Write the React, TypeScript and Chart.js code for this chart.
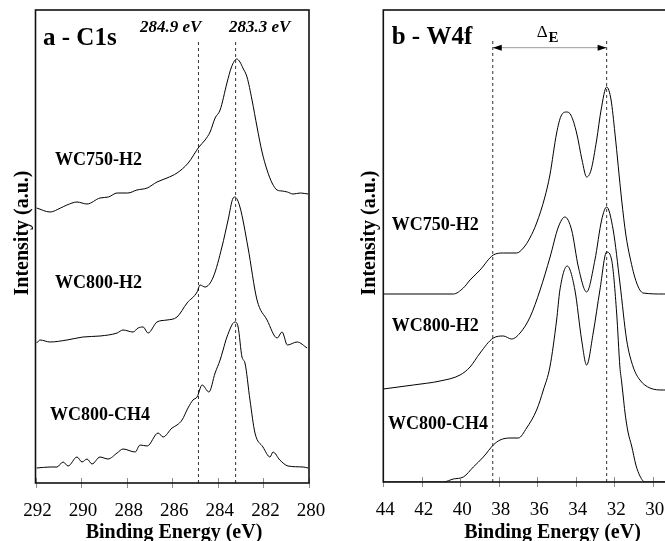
import React, { useEffect, useRef } from "react";
import { Chart, registerables } from "chart.js";

Chart.register(...registerables);

const SERIF = "'Liberation Serif', 'Times New Roman', serif";

// ---------- Panel a : C1s ----------
const c1sTicks = [292, 290, 288, 286, 284, 282, 280];
const c1sLines = [284.85, 283.22];

const c1sE750 = [291.95, 291.36, 290.9, 290.62, 290.18, 289.74, 289.17, 288.8, 288.42, 287.95, 287.55, 287.1, 286.67, 286.23, 285.79, 285.3, 284.83, 284.56, 284.34, 284.12, 283.9, 283.6, 283.4, 283.17, 283.03, 282.9, 282.72, 282.5, 282.28, 282.06, 281.84, 281.62, 281.4, 281.18, 280.95, 280.7, 280.38, 280.04];
const c1sI750 = [275, 271, 275, 278, 281, 279, 285, 286, 290, 290, 293, 295, 301, 305, 310, 320, 336, 343, 351, 365, 373, 400, 416, 424, 421, 415, 406, 383, 356, 331, 313, 300, 293, 292, 291, 289, 290, 289];

const c1sE800H = [291.95, 291.8, 291.36, 290.62, 289.92, 289.17, 288.42, 288.16, 287.72, 287.5, 287.28, 287.06, 286.67, 286.23, 285.79, 285.35, 284.91, 284.78, 284.56, 284.2, 283.82, 283.55, 283.33, 283.25, 283.03, 282.68, 282.28, 281.84, 281.4, 281.18, 280.95, 280.52, 280.08];
const c1sI800H = [140, 143, 141, 143, 146, 147, 150, 153, 151, 155, 156, 150, 161, 163, 166, 180, 191, 198, 196, 206, 236, 263, 285, 286, 276, 236, 183, 163, 145, 151, 138, 141, 135];

const c1sECH4 = [291.95, 291.36, 291.06, 290.79, 290.57, 290.18, 289.96, 289.74, 289.52, 289.17, 288.82, 288.42, 288.16, 287.63, 287.41, 287.1, 286.62, 286.4, 286.01, 285.79, 285.57, 285.31, 285.09, 284.91, 284.69, 284.39, 284.12, 283.9, 283.77, 283.6, 283.25, 283.11, 282.94, 282.81, 282.59, 282.37, 282.02, 281.71, 281.58, 281.28, 280.92, 280.26, 280.04];
const c1sICH4 = [15, 16, 16, 21, 17, 26, 21, 24, 19, 26, 24, 30, 34, 31, 38, 37, 50, 46, 55, 58, 63, 75, 83, 86, 98, 91, 110, 123, 133, 146, 161, 156, 126, 120, 83, 50, 36, 26, 31, 23, 17, 16, 15];

// ---------- Panel b : W4f ----------
const w4fTicks = [44, 42, 40, 38, 36, 34, 32, 30, 28];
const w4fLines = [38.31, 32.39];

const w4fE750 = [44.0, 42.09, 40.36, 39.84, 39.49, 38.97, 38.28, 37.76, 37.07, 36.72, 36.38, 36.03, 35.6, 35.34, 34.99, 34.76, 34.47, 34.25, 33.95, 33.67, 33.43, 33.2, 32.91, 32.68, 32.39, 32.16, 31.96, 31.61, 31.39, 31.18, 30.83, 30.49, 29.45, 28.0];
const w4fI750 = [188, 188, 188, 194, 202, 212, 227, 229, 229, 234, 244, 259, 285, 307, 349, 366, 370, 367, 349, 322, 305, 312, 342, 372, 395, 382, 349, 282, 247, 225, 199, 189, 188, 188];

const w4fE800H = [44.0, 42.44, 41.05, 40.01, 39.49, 38.97, 38.28, 37.76, 37.33, 36.89, 36.37, 35.85, 35.33, 34.9, 34.56, 34.21, 33.86, 33.43, 33.0, 32.65, 32.39, 32.05, 31.7, 31.35, 31.01, 30.66, 30.14, 29.45, 28.0];
const w4fI800H = [93, 97, 101, 107, 115, 129, 144, 146, 143, 149, 165, 192, 225, 255, 265, 252, 215, 190, 222, 262, 275, 252, 199, 142, 115, 102, 94, 92, 92];

const w4fECH4 = [44.0, 40.88, 40.36, 39.84, 39.32, 38.8, 38.28, 37.93, 37.41, 36.98, 36.55, 36.03, 35.68, 35.34, 34.99, 34.82, 34.44, 34.04, 33.69, 33.43, 33.09, 32.74, 32.39, 32.13, 31.87, 31.7, 31.61, 31.53, 31.44, 31.28, 31.09, 30.87, 30.66, 30.4, 29.45, 28.0];
const w4fICH4 = [0, 0, 3, 5, 15, 25, 37, 42, 44, 44, 54, 72, 92, 115, 162, 192, 216, 192, 142, 117, 149, 192, 230, 222, 169, 115, 100, 86, 70, 50, 36, 17, 6, 0, 0, 0];

const seriesNames = ["WC750-H2", "WC800-H2", "WC800-CH4"];

function pts(xs: number[], ys: number[]) {
  return xs.map((x, i) => ({ x, y: ys[i] }));
}

function curve(label: string, xs: number[], ys: number[]) {
  return {
    label,
    data: pts(xs, ys),
    borderColor: "#000",
    borderWidth: 1,
    pointRadius: 0,
    cubicInterpolationMode: "monotone",
    fill: false,
  };
}

function vline(e: number, top: number) {
  return {
    label: "ref " + e,
    data: [
      { x: e, y: 0 },
      { x: e, y: top },
    ],
    borderColor: "#333",
    borderWidth: 1,
    borderDash: [3, 3],
    pointRadius: 0,
    tension: 0,
    fill: false,
  };
}

type TextItem = { t: string; x: number; y: number; font: string; align?: CanvasTextAlign; rot?: boolean };

function decorPlugin(texts: TextItem[], arrow?: { from: number; to: number; y: number }) {
  return {
    id: "decor",
    afterDatasetsDraw(chart: any) {
      const { ctx, chartArea } = chart;
      const { left, right, top, bottom } = chartArea;
      const xs = chart.scales.x;
      const ys = chart.scales.y;
      ctx.save();
      ctx.strokeStyle = "#8c8c8c";
      ctx.lineWidth = 1;
      for (const tk of xs.ticks) {
        const px = Math.round(xs.getPixelForValue(tk.value)) + 0.5;
        ctx.beginPath();
        ctx.moveTo(px, bottom - 5);
        ctx.lineTo(px, bottom + 5);
        ctx.stroke();
      }
      ctx.strokeStyle = "#111";
      ctx.lineWidth = 1.6;
      ctx.strokeRect(left, top, right - left, bottom - top);
      if (arrow) {
        const x1 = xs.getPixelForValue(arrow.from);
        const x2 = xs.getPixelForValue(arrow.to);
        const y = ys.getPixelForValue(arrow.y);
        ctx.strokeStyle = "#9a9a9a";
        ctx.lineWidth = 1;
        ctx.beginPath();
        ctx.moveTo(x1, y);
        ctx.lineTo(x2, y);
        ctx.stroke();
        ctx.fillStyle = "#000";
        ctx.beginPath();
        ctx.moveTo(x1, y);
        ctx.lineTo(x1 + 9, y - 3);
        ctx.lineTo(x1 + 9, y + 3);
        ctx.closePath();
        ctx.fill();
        ctx.beginPath();
        ctx.moveTo(x2, y);
        ctx.lineTo(x2 - 9, y - 3);
        ctx.lineTo(x2 - 9, y + 3);
        ctx.closePath();
        ctx.fill();
      }
      ctx.fillStyle = "#000";
      for (const it of texts) {
        ctx.font = it.font;
        ctx.textAlign = it.align || "left";
        ctx.textBaseline = "alphabetic";
        if (it.rot) {
          ctx.save();
          ctx.translate(it.x, it.y);
          ctx.rotate(-Math.PI / 2);
          ctx.textAlign = "center";
          ctx.fillText(it.t, 0, 0);
          ctx.restore();
        } else {
          ctx.fillText(it.t, it.x, it.y);
        }
      }
      ctx.restore();
    },
  };
}

function makeOptions(min: number, max: number, ymax: number, yWidth: number, xHeight: number, padRight: number, ticks: number[]) {
  return {
    responsive: false,
    animation: false as const,
    layout: { padding: { top: 10, right: padRight, left: 0, bottom: 0 } },
    plugins: { legend: { display: false }, tooltip: { enabled: false } },
    scales: {
      x: {
        type: "linear" as const,
        reverse: true,
        min,
        max,
        afterBuildTicks: (axis: any) => {
          axis.ticks = ticks.map((v) => ({ value: v }));
        },
        afterFit: (axis: any) => {
          axis.height = xHeight;
          axis.paddingLeft = 0;
          axis.paddingRight = 0;
          axis.paddingTop = 0;
          axis.paddingBottom = 0;
        },
        grid: { display: false, drawTicks: false },
        border: { display: false },
        ticks: {
          color: "#000",
          padding: 17,
          labelOffset: 2,
          maxRotation: 0,
          autoSkip: false,
          font: { family: SERIF, size: 19 },
        },
      },
      y: {
        type: "linear" as const,
        min: 0,
        max: ymax,
        afterFit: (axis: any) => {
          axis.width = yWidth;
          axis.paddingLeft = 0;
          axis.paddingRight = 0;
          axis.paddingTop = 0;
          axis.paddingBottom = 0;
        },
        grid: { display: false, drawTicks: false },
        border: { display: false },
        ticks: { display: false },
      },
    },
  };
}

export default function App() {
  const refA = useRef<HTMLCanvasElement>(null);
  const refB = useRef<HTMLCanvasElement>(null);

  useEffect(() => {
    const bold20 = `bold 20px ${SERIF}`;
    const bold18 = `bold 18px ${SERIF}`;
    const chartA = new Chart(refA.current as HTMLCanvasElement, {
      type: "line",
      data: {
        datasets: [
          curve(seriesNames[0], c1sE750, c1sI750),
          curve(seriesNames[1], c1sE800H, c1sI800H),
          curve(seriesNames[2], c1sECH4, c1sICH4),
          vline(c1sLines[0], 443),
          vline(c1sLines[1], 443),
        ] as any,
      },
      options: makeOptions(280, 292, 473, 35.5, 58, 21, c1sTicks) as any,
      plugins: [
        decorPlugin([
          { t: "a - C1s", x: 43, y: 45, font: `bold 25px ${SERIF}` },
          { t: "284.9 eV", x: 140, y: 31.5, font: `italic bold 17px ${SERIF}` },
          { t: "283.3 eV", x: 229, y: 31.5, font: `italic bold 17px ${SERIF}` },
          { t: seriesNames[0], x: 55, y: 165, font: bold18 },
          { t: seriesNames[1], x: 55, y: 288, font: bold18 },
          { t: seriesNames[2], x: 50, y: 420, font: bold18 },
          { t: "Binding Energy (eV)", x: 174, y: 538, font: bold20, align: "center" },
          { t: "Intensity (a.u.)", x: 28, y: 233, font: bold20, rot: true },
        ]),
      ],
    });
    const chartB = new Chart(refB.current as HTMLCanvasElement, {
      type: "line",
      data: {
        datasets: [
          curve(seriesNames[0], w4fE750, w4fI750),
          curve(seriesNames[1], w4fE800H, w4fI800H),
          curve(seriesNames[2], w4fECH4, w4fICH4),
          vline(w4fLines[0], 442),
          vline(w4fLines[1], 442),
        ] as any,
      },
      options: makeOptions(28, 44, 472, 53.3, 59, 18.9, w4fTicks) as any,
      plugins: [
        decorPlugin(
          [
            { t: "b - W4f", x: 61.7, y: 43.5, font: `bold 25px ${SERIF}` },
            { t: "Δ", x: 206.7, y: 37, font: `17px ${SERIF}` },
            { t: "E", x: 218.5, y: 42, font: `bold 15px ${SERIF}` },
            { t: seriesNames[0], x: 61.7, y: 229.5, font: bold18 },
            { t: seriesNames[1], x: 61.7, y: 330.5, font: bold18 },
            { t: seriesNames[2], x: 58, y: 428.5, font: bold18 },
            { t: "Binding Energy (eV)", x: 222.5, y: 538, font: bold20, align: "center" },
            { t: "Intensity (a.u.)", x: 45, y: 233, font: bold20, rot: true },
          ],
          { from: w4fLines[0], to: w4fLines[1], y: 434.3 }
        ),
      ],
    });
    return () => {
      chartA.destroy();
      chartB.destroy();
    };
  }, []);

  return (
    <div
      style={{
        position: "fixed",
        left: 0,
        top: 0,
        width: 665,
        height: 541,
        overflow: "hidden",
        background: "#fff",
      }}
    >
      <canvas
        ref={refA}
        width={330}
        height={541}
        style={{ position: "absolute", left: 0, top: 0, width: 330, height: 541 }}
      />
      <canvas
        ref={refB}
        width={380}
        height={541}
        style={{ position: "absolute", left: 330, top: 0, width: 380, height: 541 }}
      />
    </div>
  );
}
